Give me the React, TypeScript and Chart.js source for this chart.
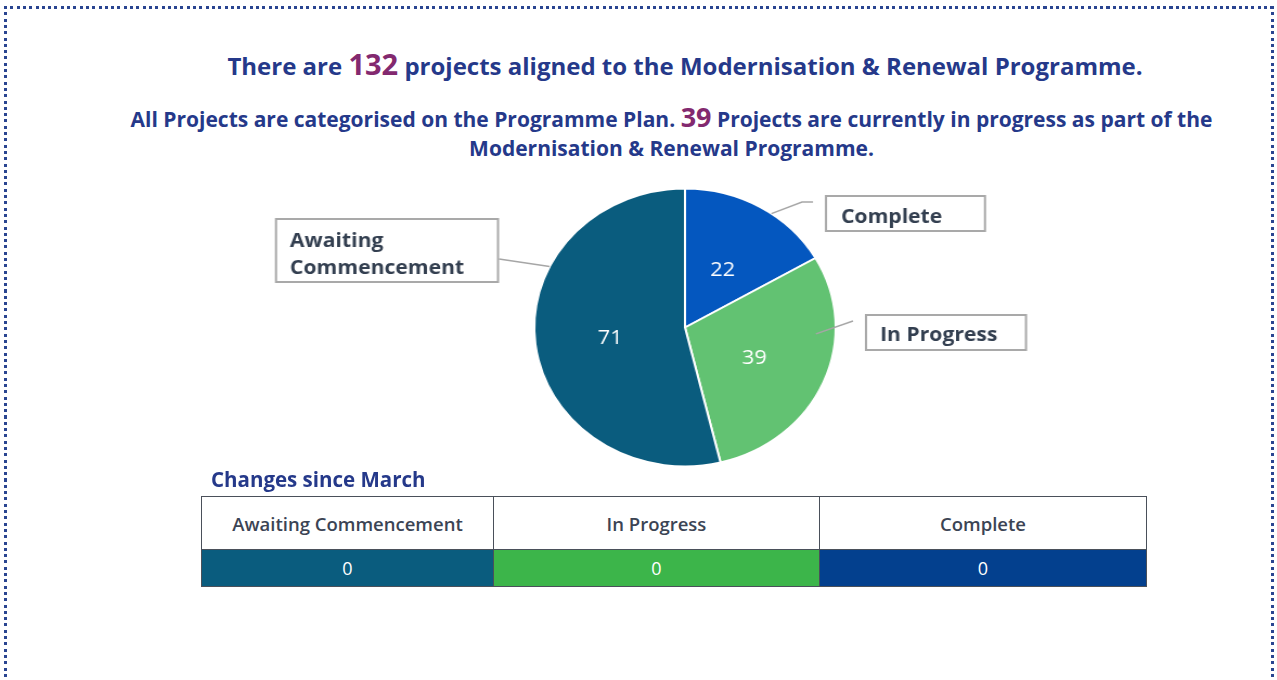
import React, { useEffect, useRef } from "react";
import { Chart, registerables } from "chart.js";

Chart.register(...registerables);

// ---- data ----
const categories = ["Complete", "In Progress", "Awaiting Commencement"];
const projectCounts = [22, 39, 71];
const sliceColors = ["#0457bf", "#62c272", "#0a5c7e"];

const tableHeaders = ["Awaiting Commencement", "In Progress", "Complete"];
const tableChanges = [0, 0, 0];
const tableColors = ["#0a5c7e", "#3cb54a", "#03408e"];

const totalProjects = 132;
const inProgressProjects = 39;

// ---- layout (page coords) ----
const CANVAS_LEFT = 260;
const CANVAS_TOP = 180;
const CANVAS_W = 790;
const CANVAS_H = 295;
const STRETCH = 1.084;
const ORIGIN_X = 425; // canvas-local x of the pie centre (transform origin)

const toCX = (sx: number) => ORIGIN_X + (sx - CANVAS_LEFT - ORIGIN_X) / STRETCH;
const toCY = (sy: number) => sy - CANVAS_TOP;

type Callout = {
  index: number;
  lines: string[];
  box: [number, number, number, number]; // x1,y1,x2,y2 page coords
  textX: number;
  textY: number[];
  anchorDeg: number;
  anchorFrac: number;
  path: [number, number][];
};

const callouts: Callout[] = [
  {
    index: 2,
    lines: ["Awaiting", "Commencement"],
    box: [276, 219, 498, 282],
    textX: 290,
    textY: [241, 268],
    anchorDeg: 296,
    anchorFrac: 1.0,
    path: [[499, 259]],
  },
  {
    index: 0,
    lines: ["Complete"],
    box: [826, 196, 985, 231],
    textX: 841,
    textY: [217],
    anchorDeg: 35,
    anchorFrac: 1.0,
    path: [
      [802, 202],
      [813, 202],
    ],
  },
  {
    index: 1,
    lines: ["In Progress"],
    box: [866, 315, 1026, 350],
    textX: 880,
    textY: [335],
    anchorDeg: 93,
    anchorFrac: 0.87,
    path: [[853, 321]],
  },
];

const labelPlugin = {
  id: "pieLabels",
  afterDatasetsDraw(chart: any) {
    const ctx = chart.ctx;
    const meta = chart.getDatasetMeta(0);
    ctx.save();
    // values inside slices
    ctx.fillStyle = "#ffffff";
    ctx.font = '400 20px "Open Sans"';
    ctx.textAlign = "center";
    ctx.textBaseline = "middle";
    meta.data.forEach((arc: any, i: number) => {
      const p = arc.tooltipPosition();
      ctx.fillText(String(chart.data.datasets[0].data[i]), p.x, p.y + 3);
    });
    // callouts
    callouts.forEach((c) => {
      const arc: any = meta.data[c.index];
      const r = arc.outerRadius * c.anchorFrac;
      const a = (c.anchorDeg * Math.PI) / 180;
      const ax = arc.x + r * Math.sin(a);
      const ay = arc.y - r * Math.cos(a);
      ctx.strokeStyle = "#a6a6a6";
      ctx.lineWidth = 1.5;
      ctx.beginPath();
      ctx.moveTo(ax, ay);
      c.path.forEach(([px, py]) => ctx.lineTo(toCX(px), toCY(py)));
      ctx.stroke();
      const [x1, y1, x2, y2] = c.box;
      ctx.fillStyle = "#ffffff";
      ctx.fillRect(toCX(x1), toCY(y1), toCX(x2) - toCX(x1), y2 - y1);
      ctx.lineWidth = 2;
      ctx.strokeStyle = "#a9a9a9";
      ctx.strokeRect(toCX(x1), toCY(y1), toCX(x2) - toCX(x1), y2 - y1);
      ctx.fillStyle = "#333f50";
      ctx.font = '700 19.5px "Open Sans"';
      ctx.textAlign = "left";
      ctx.textBaseline = "middle";
      c.lines.forEach((ln, k) => ctx.fillText(ln, toCX(c.textX), toCY(c.textY[k])));
    });
    ctx.restore();
  },
};

function PieChart() {
  const ref = useRef<HTMLCanvasElement | null>(null);
  useEffect(() => {
    if (!ref.current) return;
    const chart = new Chart(ref.current, {
      type: "pie",
      data: {
        labels: categories,
        datasets: [
          {
            data: projectCounts,
            backgroundColor: sliceColors,
            borderColor: "#ffffff",
            borderWidth: 2,
          },
        ],
      },
      options: {
        responsive: false,
        animation: false,
        devicePixelRatio: 1,
        layout: { padding: { left: 285, right: 225, top: 7.5, bottom: 7.5 } },
        plugins: {
          legend: { display: false },
          tooltip: { enabled: false },
        },
      },
      plugins: [labelPlugin],
    });
    return () => chart.destroy();
  }, []);
  return (
    <div
      style={{
        position: "absolute",
        left: CANVAS_LEFT,
        top: CANVAS_TOP,
        width: CANVAS_W,
        height: CANVAS_H,
        transform: `scaleX(${STRETCH})`,
        transformOrigin: `${ORIGIN_X}px 0px`,
      }}
    >
      <canvas ref={ref} width={CANVAS_W} height={CANVAS_H} style={{ width: CANVAS_W, height: CANVAS_H, display: "block" }} />
    </div>
  );
}

const NAVY = "#25398a";
const PURPLE = "#83296f";
const dotColor = "#2a4591";

export default function App() {
  const dotH = `repeating-linear-gradient(to right, ${dotColor} 0px, ${dotColor} 3px, transparent 3px, transparent 6.3px)`;
  const dotV = `repeating-linear-gradient(to bottom, ${dotColor} 0px, ${dotColor} 3px, transparent 3px, transparent 6.3px)`;
  const cellBorder = "1.5px solid #4a505a";
  const headFont = '"Open Sans", sans-serif';
  return (
    <div
      style={{
        position: "absolute",
        left: 0,
        top: 0,
        width: 1277,
        height: 680,
        overflow: "hidden",
        background: "#ffffff",
        fontFamily: headFont,
      }}
    >
      <div style={{ position: "absolute", left: 4, top: 6, width: 1270, height: 3, background: dotH }} />
      <div style={{ position: "absolute", left: 4, top: 6, width: 3, height: 700, background: dotV }} />
      <div style={{ position: "absolute", left: 1271, top: 6, width: 3, height: 700, background: dotV }} />

      <div
        style={{
          position: "absolute",
          left: 185,
          width: 1000,
          top: 44,
          lineHeight: "40px",
          textAlign: "center",
          color: NAVY,
          fontWeight: 700,
          fontSize: 24,
          whiteSpace: "nowrap",
        }}
      >
        There are <span style={{ color: PURPLE, fontSize: 29 }}>{totalProjects}</span> projects aligned to the
        Modernisation &amp; Renewal Programme.
      </div>

      <div
        style={{
          position: "absolute",
          left: 71.5,
          width: 1200,
          top: 102,
          lineHeight: "29px",
          textAlign: "center",
          color: NAVY,
          fontWeight: 700,
          fontSize: 21,
        }}
      >
        <div style={{ whiteSpace: "nowrap" }}>
          All Projects are categorised on the Programme Plan.{" "}
          <span style={{ color: PURPLE, fontSize: 27 }}>{inProgressProjects}</span> Projects are currently in progress
          as part of the
        </div>
        <div style={{ whiteSpace: "nowrap" }}>Modernisation &amp; Renewal Programme.</div>
      </div>

      <PieChart />

      <div
        style={{
          position: "absolute",
          left: 211,
          top: 466,
          lineHeight: "26px",
          color: NAVY,
          fontWeight: 700,
          fontSize: 20.5,
          whiteSpace: "nowrap",
        }}
      >
        Changes since March
      </div>

      <table
        style={{
          position: "absolute",
          left: 201,
          top: 496,
          width: 945,
          borderCollapse: "collapse",
          tableLayout: "fixed",
          fontFamily: '"Open Sans", sans-serif',
        }}
      >
        <colgroup>
          <col style={{ width: 292 }} />
          <col style={{ width: 326 }} />
          <col style={{ width: 327 }} />
        </colgroup>
        <tbody>
          <tr style={{ height: 53 }}>
            {tableHeaders.map((h) => (
              <td
                key={h}
                style={{
                  border: cellBorder,
                  textAlign: "center",
                  fontWeight: 600,
                  fontSize: 18.5,
                  color: "#3b4454",
                  padding: 0,
                  background: "#ffffff",
                }}
              >
                {h}
              </td>
            ))}
          </tr>
          <tr style={{ height: 37 }}>
            {tableChanges.map((v, i) => (
              <td
                key={i}
                style={{
                  border: cellBorder,
                  textAlign: "center",
                  fontWeight: 400,
                  fontSize: 18,
                  color: "#ffffff",
                  padding: 0,
                  background: tableColors[i],
                }}
              >
                {v}
              </td>
            ))}
          </tr>
        </tbody>
      </table>
    </div>
  );
}
